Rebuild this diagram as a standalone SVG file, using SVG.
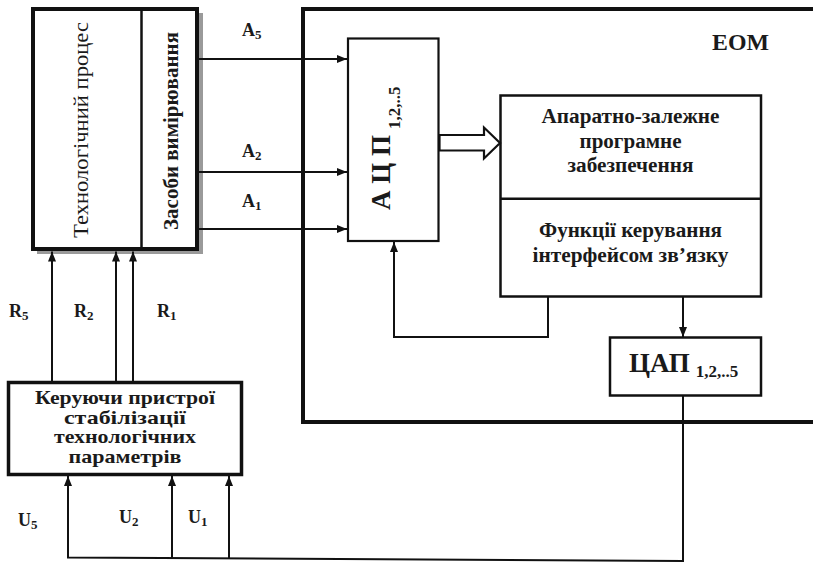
<svg xmlns="http://www.w3.org/2000/svg" width="813" height="562" viewBox="0 0 813 562">
<defs>
<style>
text{font-family:"Times New Roman","Liberation Serif","Noto Serif","DejaVu Serif",serif;fill:#1a1a1a;}
.t{font-weight:bold;}
.c{text-anchor:middle;}
.ln{fill:none;stroke:#111;stroke-width:2;}
.box{fill:#fff;stroke:#111;}
.lbl{font-weight:bold;font-size:18px;}
</style>
<marker id="ah" markerUnits="userSpaceOnUse" markerWidth="10" markerHeight="8" refX="10" refY="4" orient="auto">
<path d="M0,0 L10,4 L0,8 z" fill="#111"/>
</marker>
</defs>
<rect width="813" height="562" fill="#fff"/>

<g id="eom">
<rect x="303" y="9" width="520" height="413" fill="none" stroke="#111" stroke-width="4"/>
<text class="t" x="712" y="50" font-size="23" textLength="57" lengthAdjust="spacingAndGlyphs">ЕОМ</text>
</g>

<g id="process">
<rect x="37" y="13" width="166" height="241" fill="#9a9a9a"/>
<rect class="box" x="33" y="9" width="164" height="240" stroke-width="4"/>
<line x1="141.5" y1="9" x2="141.5" y2="249" stroke="#111" stroke-width="2.5"/>
<text transform="translate(88,130) rotate(-90)" class="c" font-size="21" textLength="216" lengthAdjust="spacingAndGlyphs">Технологічний процес</text>
<text transform="translate(178,131) rotate(-90)" class="t c" font-size="21" textLength="198" lengthAdjust="spacingAndGlyphs">Засоби вимірювання</text>
</g>

<g id="adc">
<rect class="box" x="348" y="38.5" width="90.5" height="202.5" stroke-width="2.2"/>
<text transform="translate(390,210) rotate(-90)" class="t" font-size="27">А Ц П<tspan font-size="17" dx="6" dy="10">1,2,..5</tspan></text>
</g>

<g id="software">
<rect class="box" x="500.5" y="95.5" width="260.5" height="201" stroke-width="2.5"/>
<line x1="500.5" y1="198.7" x2="761" y2="198.7" stroke="#111" stroke-width="2.5"/>
<text class="t c" x="630.5" y="123" font-size="20" textLength="178" lengthAdjust="spacingAndGlyphs">Апаратно-залежне</text>
<text class="t c" x="630.5" y="147.5" font-size="20" textLength="102" lengthAdjust="spacingAndGlyphs">програмне</text>
<text class="t c" x="630.5" y="172" font-size="20" textLength="126" lengthAdjust="spacingAndGlyphs">забезпечення</text>
<text class="t c" x="630.5" y="237" font-size="20" textLength="183" lengthAdjust="spacingAndGlyphs">Функції керування</text>
<text class="t c" x="630.5" y="262" font-size="20" textLength="196" lengthAdjust="spacingAndGlyphs">інтерфейсом зв’язку</text>
</g>

<g id="dac">
<rect class="box" x="610" y="337.5" width="151" height="58" stroke-width="2.5"/>
<text class="t" x="629" y="372" font-size="27">ЦАП<tspan font-size="17" dx="6" dy="5">1,2,..5</tspan></text>
</g>

<g id="controller">
<rect class="box" x="8.5" y="382.5" width="233" height="92" stroke-width="3.5"/>
<text class="t c" x="125" y="404" font-size="19" textLength="180" lengthAdjust="spacingAndGlyphs">Керуючи пристрої</text>
<text class="t c" x="125" y="423.5" font-size="19" textLength="122" lengthAdjust="spacingAndGlyphs">стабілізації</text>
<text class="t c" x="125" y="443" font-size="19" textLength="142" lengthAdjust="spacingAndGlyphs">технологічних</text>
<text class="t c" x="125" y="462.5" font-size="19" textLength="113" lengthAdjust="spacingAndGlyphs">параметрів</text>
</g>

<g id="connectors">
<line class="ln" x1="199" y1="59" x2="347" y2="59" marker-end="url(#ah)"/>
<line class="ln" x1="199" y1="172" x2="347" y2="172" marker-end="url(#ah)"/>
<line class="ln" x1="199" y1="229" x2="347" y2="229" marker-end="url(#ah)"/>
<polygon points="439.5,135 484,135 484,127.5 500,143 484,158.5 484,150.5 439.5,150.5" fill="#fff" stroke="#111" stroke-width="2.2" stroke-linejoin="miter"/>
<path class="ln" d="M548,296.5 V337 H394 V242" marker-end="url(#ah)"/>
<path class="ln" d="M683,296.5 V337" marker-end="url(#ah)"/>
<path class="ln" d="M683,395.5 V561 L68,557.5 V476" marker-end="url(#ah)"/>
<line class="ln" x1="172" y1="558.1" x2="172" y2="476" marker-end="url(#ah)"/>
<line class="ln" x1="229" y1="558.4" x2="229" y2="476" marker-end="url(#ah)"/>
<line class="ln" x1="52" y1="381" x2="52" y2="251.5" marker-end="url(#ah)"/>
<line class="ln" x1="116" y1="381" x2="116" y2="251.5" marker-end="url(#ah)"/>
<line class="ln" x1="133" y1="381" x2="133" y2="251.5" marker-end="url(#ah)"/>
</g>

<g id="labels">
<text class="lbl" x="242" y="36">A<tspan font-size="13" dy="3">5</tspan></text>
<text class="lbl" x="242" y="157">A<tspan font-size="13" dy="3">2</tspan></text>
<text class="lbl" x="242" y="207">A<tspan font-size="13" dy="3">1</tspan></text>
<text class="lbl" x="9" y="317">R<tspan font-size="13" dy="3">5</tspan></text>
<text class="lbl" x="74" y="317">R<tspan font-size="13" dy="3">2</tspan></text>
<text class="lbl" x="157" y="317">R<tspan font-size="13" dy="3">1</tspan></text>
<text class="lbl" x="18" y="526">U<tspan font-size="13" dy="3">5</tspan></text>
<text class="lbl" x="119" y="523">U<tspan font-size="13" dy="3">2</tspan></text>
<text class="lbl" x="188" y="523">U<tspan font-size="13" dy="3">1</tspan></text>
</g>
</svg>
